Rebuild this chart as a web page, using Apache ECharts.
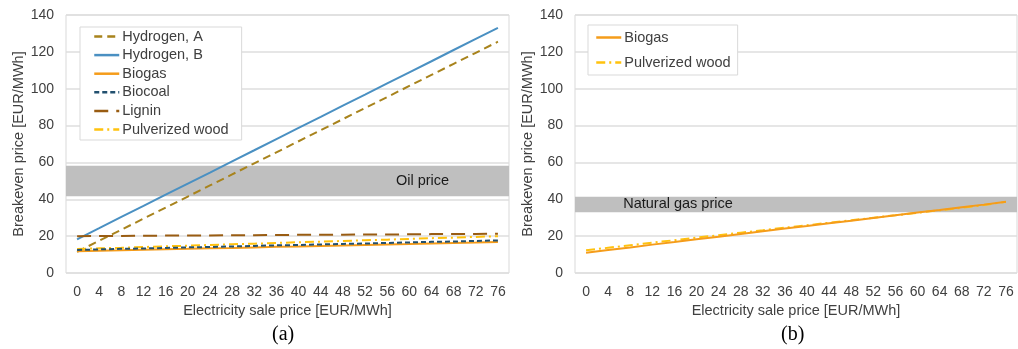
<!DOCTYPE html>
<html>
<head>
<meta charset="utf-8">
<script src="https://cdn.jsdelivr.net/npm/echarts@6/dist/echarts.min.js"></script>
<style>
html,body{margin:0;padding:0;background:#fff;}
#chart{width:1018px;height:349px;}
</style>
</head>
<body>
<div id="chart"></div>
<script>
// ---- data ----
const categories = ['0','4','8','12','16','20','24','28','32','36','40','44','48','52','56','60','64','68','72','76'];
const yTicks = [0, 20, 40, 60, 80, 100, 120, 140];

// chart (a)
const hydrogenA = [11.5, 17.5, 23.5, 29.5, 35.5, 41.5, 47.5, 53.5, 59.5, 65.5, 71.5, 77.5, 83.5, 89.5, 95.5, 101.5, 107.5, 113.5, 119.5, 125.5];
const hydrogenB = [18.3, 24.3, 30.4, 36.4, 42.5, 48.5, 54.5, 60.6, 66.6, 72.7, 78.7, 84.7, 90.8, 96.8, 102.9, 108.9, 114.9, 121.0, 127.0, 133.0];
const biogasA = [11.8, 12.1, 12.3, 12.6, 12.9, 13.1, 13.4, 13.6, 13.9, 14.2, 14.4, 14.7, 14.9, 15.2, 15.5, 15.7, 16.0, 16.3, 16.5, 16.8];
const biocoalA = [12.5, 12.8, 13.1, 13.3, 13.6, 13.9, 14.1, 14.4, 14.7, 15.0, 15.2, 15.5, 15.8, 16.0, 16.3, 16.6, 16.9, 17.1, 17.4, 17.7];
const ligninA = [20.0, 20.1, 20.1, 20.2, 20.3, 20.3, 20.4, 20.5, 20.5, 20.6, 20.7, 20.7, 20.8, 20.9, 20.9, 21.0, 21.1, 21.1, 21.2, 21.3];
const woodA = [13.0, 13.4, 13.7, 14.1, 14.5, 14.8, 15.2, 15.6, 15.9, 16.3, 16.7, 17.0, 17.4, 17.8, 18.1, 18.5, 18.9, 19.2, 19.6, 20.0];
const oilBand = [41.7, 58.2];

// chart (b)
const biogasB = [11.0, 12.5, 13.9, 15.4, 16.8, 18.3, 19.7, 21.2, 22.6, 24.1, 25.5, 27.0, 28.4, 29.9, 31.3, 32.8, 34.2, 35.7, 37.1, 38.6];
const woodB = [12.3, 13.7, 15.1, 16.5, 17.8, 19.2, 20.5, 21.9, 23.2, 24.6, 25.9, 27.3, 28.6, 30.0, 31.3, 32.7, 34.0, 35.4, 36.9, 38.6];
const gasBand = [33.0, 41.4];

const legendA = ['Hydrogen, A', 'Hydrogen, B', 'Biogas', 'Biocoal', 'Lignin', 'Pulverized wood'];
const legendB = ['Biogas', 'Pulverized wood'];

// ---- styles ----
const C = {
  hA: '#a8831c', hB: '#4a90c2', biogas: '#f59c1a', biocoal: '#22506f', lignin: '#995c12', wood: '#ffc20e'
};
const textColor = '#404040';
const font = 'Liberation Sans, Arial, sans-serif';

function yAxis(gi) {
  return {
    type: 'value', gridIndex: gi, min: yTicks[0], max: yTicks[yTicks.length - 1], interval: 20,
    name: 'Breakeven price [EUR/MWh]', nameLocation: 'middle', nameGap: 40,
    nameTextStyle: { color: textColor, fontFamily: font, fontSize: 14.5 },
    axisLine: { show: false }, axisTick: { show: false },
    axisLabel: { color: textColor, fontFamily: font, fontSize: 14, margin: 12 },
    splitLine: { lineStyle: { color: '#dedede', width: 1.5 } }
  };
}
function xAxis(gi) {
  return {
    type: 'category', gridIndex: gi, data: categories, boundaryGap: true,
    name: 'Electricity sale price [EUR/MWh]', nameLocation: 'middle', nameGap: 30,
    nameTextStyle: { color: textColor, fontFamily: font, fontSize: 14.5 },
    axisLine: { show: false }, axisTick: { show: false },
    axisLabel: { color: textColor, fontFamily: font, fontSize: 14, margin: 12, interval: 0 },
    splitLine: { show: false }
  };
}
function line(name, data, color, type, gi) {
  return {
    name: name, type: 'line', data: data, xAxisIndex: gi, yAxisIndex: gi,
    symbol: 'none', smooth: false, z: 3,
    lineStyle: { color: color, width: 2, type: type },
    itemStyle: { color: color }
  };
}
function band(name, range, label, offset, gi) {
  return {
    name: name, type: 'line', data: [], xAxisIndex: gi, yAxisIndex: gi, z: 1,
    symbol: 'none', silent: true,
    markArea: {
      silent: true,
      itemStyle: { color: '#bfbfbf', opacity: 1 },
      label: { show: true, position: 'inside', offset: offset, color: '#1a1a1a', fontFamily: font, fontSize: 14.5 },
      data: [[{ yAxis: range[0], name: label }, { yAxis: range[1] }]]
    }
  };
}

const legendCommon = {
  orient: 'vertical', backgroundColor: '#fff', borderColor: '#d9d9d9', borderWidth: 1,
  itemWidth: 25, itemHeight: 14, itemGap: 3.6,
  itemStyle: { opacity: 0 },
  lineStyle: { width: 2.5 },
  textStyle: { color: textColor, fontFamily: font, fontSize: 14.5, padding: [0, 0, 0, -2] },
  selectedMode: false
};

const option = {
  animation: false,
  backgroundColor: '#fff',
  title: [
    { text: '(a)', left: 267, top: 320, textStyle: { fontFamily: 'Liberation Serif, Times New Roman, serif', fontSize: 20, fontWeight: 'normal', color: '#000' } },
    { text: '(b)', left: 776, top: 320, textStyle: { fontFamily: 'Liberation Serif, Times New Roman, serif', fontSize: 20, fontWeight: 'normal', color: '#000' } }
  ],
  grid: [
    { left: 66, right: 509, top: 15, bottom: 76, show: true, borderColor: '#d9d9d9', borderWidth: 1, backgroundColor: '#fff' },
    { left: 575, right: 1, top: 15, bottom: 76, show: true, borderColor: '#d9d9d9', borderWidth: 1, backgroundColor: '#fff' }
  ],
  legend: [
    Object.assign({}, legendCommon, { data: legendA, left: 80, top: 27, padding: [2, 13, 3, 13] }),
    Object.assign({}, legendCommon, { data: legendB, left: 588, top: 25, padding: [5, 7, 5, 7], itemGap: 10 })
  ],
  xAxis: [xAxis(0), xAxis(1)],
  yAxis: [yAxis(0), yAxis(1)],
  series: [
    band('oil', oilBand, 'Oil price', [135, 0], 0),
    line('Hydrogen, A', hydrogenA, C.hA, [8, 5], 0),
    line('Hydrogen, B', hydrogenB, C.hB, 'solid', 0),
    line('Lignin', ligninA, C.lignin, [14, 8], 0),
    line('Pulverized wood', woodA, C.wood, [9, 4, 2, 4], 0),
    line('Biogas', biogasA, C.biogas, 'solid', 0),
    line('Biocoal', biocoalA, C.biocoal, [5, 3], 0),
    band('gas', gasBand, 'Natural gas price', [-118, 0], 1),
    line('Pulverized wood', woodB, C.wood, [9, 4, 2, 4], 1),
    line('Biogas', biogasB, C.biogas, 'solid', 1)
  ]
};

const chart = echarts.init(document.getElementById('chart'), null, { renderer: 'canvas' });
chart.setOption(option);
</script>
</body>
</html>
